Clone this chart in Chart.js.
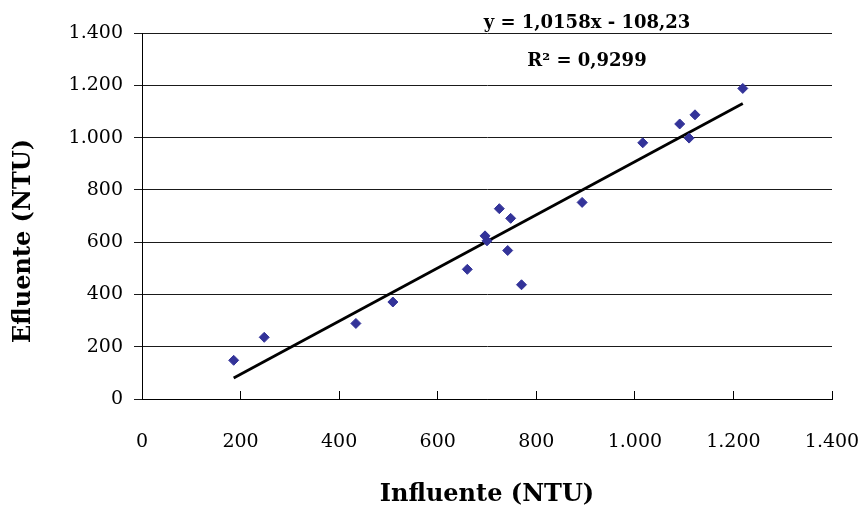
<!DOCTYPE html>
<html>
<head>
<meta charset="utf-8">
<script src="https://cdn.jsdelivr.net/npm/chart.js@4/dist/chart.umd.min.js"></script>
<style>
  html, body { margin: 0; padding: 0; background: #ffffff; }
  #wrap { width: 861px; height: 509px; }
</style>
</head>
<body>
<div id="wrap"><canvas id="c" width="861" height="509"></canvas></div>
<script>
// ---- data ----
const influente = [186, 248, 434, 509, 660, 696, 700, 725, 742, 748, 770, 893, 1016, 1091, 1110, 1122, 1219];
const efluente  = [148, 236, 289, 371, 496, 624, 605, 728, 568, 691, 437, 752, 980, 1052, 998, 1087, 1188];
const xTickValues = [0, 200, 400, 600, 800, 1000, 1200, 1400];
const yTickValues = [0, 200, 400, 600, 800, 1000, 1200, 1400];
const trendSlope = 1.0158;
const trendIntercept = -108.23;
const equationText = 'y = 1,0158x - 108,23';
const r2Text = 'R² = 0,9299';
const xTitle = 'Influente (NTU)';
const yTitle = 'Efluente (NTU)';

const points = influente.map((x, i) => ({ x: x, y: efluente[i] }));
const xMin = Math.min(...influente), xMax = Math.max(...influente);
const trend = [xMin, xMax].map(x => ({ x: x, y: trendSlope * x + trendIntercept }));

function fmt(v) {
  return String(v).replace(/\B(?=(\d{3})+(?!\d))/g, '.');
}

const SERIF = '"DejaVu Serif", serif';

const textPlugin = {
  id: 'texts',
  afterDraw(chart) {
    const ctx = chart.ctx;
    ctx.save();
    ctx.fillStyle = '#000';
    ctx.textAlign = 'center';
    ctx.textBaseline = 'alphabetic';
    ctx.font = 'bold 18px ' + SERIF;
    ctx.fillText(equationText, 587, 28);
    ctx.fillText(r2Text, 587, 66);
    // y axis title
    ctx.font = 'bold 24px ' + SERIF;
    ctx.textBaseline = 'middle';
    ctx.translate(24, 241);
    ctx.rotate(-Math.PI / 2);
    ctx.fillText(yTitle, 0, 0);
    ctx.restore();
  }
};

new Chart(document.getElementById('c'), {
  type: 'scatter',
  data: {
    datasets: [
      {
        type: 'line',
        data: trend,
        borderColor: '#000000',
        borderWidth: 2.8,
        pointRadius: 0,
        fill: false,
        order: 2
      },
      {
        data: points,
        pointStyle: 'rectRot',
        pointRadius: 5,
        backgroundColor: '#333399',
        borderColor: '#333399',
        borderWidth: 1,
        order: 1
      }
    ]
  },
  options: {
    responsive: false,
    animation: false,
    devicePixelRatio: 1,
    layout: { padding: { left: 0, right: 29, top: 33, bottom: 0 } },
    plugins: { legend: { display: false }, tooltip: { enabled: false } },
    scales: {
      x: {
        type: 'linear',
        min: 0, max: 1400,
        afterBuildTicks(scale) { scale.ticks = xTickValues.map(v => ({ value: v })); },
        afterFit(scale) { scale.height = 110; scale.paddingLeft = 0; scale.paddingRight = 0; },
        grid: { drawOnChartArea: false, drawTicks: true, tickLength: -8, color: '#000000', lineWidth: 1 },
        border: { display: true, color: '#000000', width: 1 },
        ticks: {
          color: '#000000',
          font: { family: SERIF, size: 19 },
          padding: 40,
          maxRotation: 0,
          callback: v => fmt(v)
        },
        title: {
          display: true,
          text: xTitle,
          color: '#000000',
          font: { family: SERIF, size: 24, weight: 'bold' },
          padding: { top: 0, bottom: 0 }
        }
      },
      y: {
        type: 'linear',
        min: 0, max: 1400,
        afterBuildTicks(scale) { scale.ticks = yTickValues.map(v => ({ value: v })); },
        afterFit(scale) { scale.width = 142; scale.paddingTop = 0; scale.paddingBottom = 0; },
        grid: { drawOnChartArea: true, drawTicks: true, tickLength: 8, color: '#1a1a1a', lineWidth: 1 },
        border: { display: true, color: '#000000', width: 1 },
        ticks: {
          color: '#000000',
          font: { family: SERIF, size: 19 },
          padding: 11,
          callback: v => fmt(v)
        }
      }
    }
  },
  plugins: [textPlugin]
});
</script>
</body>
</html>
